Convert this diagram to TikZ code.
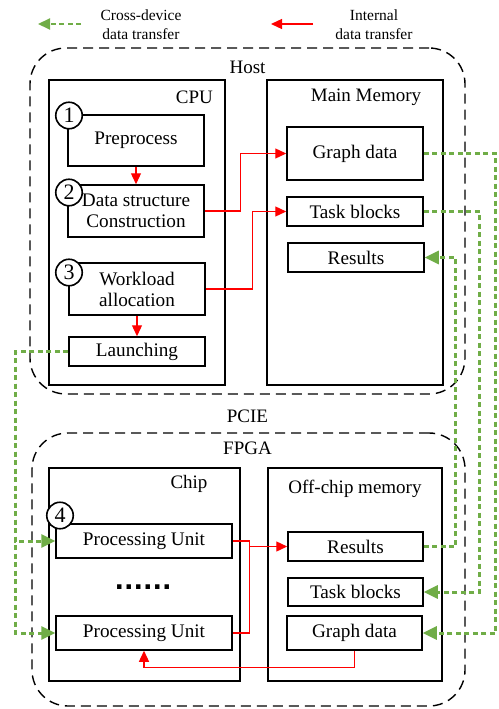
\documentclass[tikz,border=0pt]{standalone}
\usepackage{fontspec}
\setmainfont{Liberation Serif}
\newfontfamily\dotfont{DejaVu Sans}
\usetikzlibrary{arrows.meta}
\definecolor{xfer}{RGB}{112,173,71}
\begin{document}
\begin{tikzpicture}[x=1pt,y=-1pt,
  blk/.style={draw, line width=1.5pt, inner sep=0pt, align=center, font=\fontsize{19.2}{21}\selectfont},
  region/.style={draw, line width=1.5pt, inner sep=0pt},
  group/.style={draw, line width=1.4pt, dash pattern=on 10pt off 6pt, rounded corners=36pt, inner sep=0pt},
  lbl/.style={font=\fontsize{19}{21}\selectfont, inner sep=0pt},
  leg/.style={font=\fontsize{15.5}{19}\selectfont, inner sep=0pt, align=center},
  num/.style={circle, draw, line width=1.6pt, fill=white, minimum size=26.5pt, inner sep=0pt, font=\fontsize{22}{22}\selectfont},
  inline/.style={red, line width=1.3pt},
  inarrow/.style={inline, -{Triangle[length=11pt,width=10pt]}},
  xline/.style={xfer, line width=3pt, dash pattern=on 5pt off 3.5pt},
  xarrow/.style={xline, -{Triangle[length=14pt,width=13pt]}}
]
\useasboundingbox (0,0) rectangle (498,709);

% legend
\coordinate (lg1) at (81,24);
\coordinate (lg2) at (38,24);
\coordinate (lr1) at (313,24);
\coordinate (lr2) at (271,24);
\draw[xarrow, line width=2pt, -{Triangle[length=12pt,width=11pt]}] (lg1) -- (lg2);
\draw[inarrow] (lr1) -- (lr2);
\node[leg] (legx) at (141,24.5) {Cross-device\\data transfer};
\node[leg] (legi) at (374,24.5) {Internal\\data transfer};

% host side
\node[group, minimum width=435, minimum height=346] (host) at (247.5,221) {};
\node[lbl] (hostlbl) at (247.5,67) {Host};
\node[region, minimum width=176, minimum height=305] (cpu) at (137,232.5) {};
\node[lbl, anchor=east] (cpulbl) at (213,97) {CPU};
\node[region, minimum width=176, minimum height=305] (mm) at (355,232.5) {};
\node[lbl] (mmlbl) at (366,97) {Main Memory};

\node[blk, minimum width=136, minimum height=51] (pp) at (136,140.5) {Preprocess};
\node[blk, minimum width=136, minimum height=52] (ds) at (136,211) {Data structure\\Construction};
\node[blk, minimum width=136, minimum height=52] (wl) at (137,289) {Workload\\allocation};
\node[blk, minimum width=136, minimum height=29] (la) at (137,351.5) {Launching};
\node[num] (n1) at (69,115.5) {1};
\node[num] (n2) at (69,192.5) {2};
\node[num] (n3) at (69,272.5) {3};

\node[blk, minimum width=136, minimum height=53] (gdM) at (355,153.5) {Graph data};
\node[blk, minimum width=136, minimum height=29] (tbM) at (355,211.5) {Task blocks};
\node[blk, minimum width=136, minimum height=29] (resM) at (356,257.5) {Results};

\node[lbl] (pcie) at (247.5,416) {PCIE};

% FPGA side
\node[group, minimum width=433, minimum height=273] (fpga) at (248.5,569.5) {};
\node[lbl] (fpgalbl) at (247.5,448) {FPGA};
\node[region, minimum width=191, minimum height=213] (chip) at (144.5,574.5) {};
\node[lbl] (chiplbl) at (189,484) {Chip};
\node[region, minimum width=174, minimum height=213] (ocm) at (355,574.5) {};
\node[lbl] (ocmlbl) at (355,489) {Off-chip memory};

\node[blk, minimum width=176, minimum height=34] (pu1) at (144,541) {Processing Unit};
\node[font=\dotfont\bfseries\fontsize{25}{25}\selectfont, inner sep=0pt, anchor=base] (dots) at (143,589) {......};
\node[blk, minimum width=176, minimum height=34] (pu2) at (144,633) {Processing Unit};
\node[num] (n4) at (60,515.5) {4};

\node[blk, minimum width=135, minimum height=29] (resO) at (355.5,546.5) {Results};
\node[blk, minimum width=135, minimum height=28] (tbO) at (355.5,592) {Task blocks};
\node[blk, minimum width=135, minimum height=34] (gdO) at (354.5,633) {Graph data};

% internal transfers
\draw[inarrow] (pp.south) -- (ds.north);
\draw[inarrow] (wl.south) -- (la.north);
\draw[inarrow] (ds.east) -- ++(36,0) |- (gdM.west);
\draw[inarrow] (wl.east) -- ++(47,0) |- (tbM.west);
\draw[inline] (pu1.east) -- ++(17,0) |- (pu2.east);
\coordinate (tap) at (249,546.5);
\draw[inarrow] (tap) -- (resO.west);
\draw[inarrow] (gdO.south) -- ++(0,17) -| (pu2.south);

% cross-device transfers
\draw[xarrow] (gdM.east) -- ++(72,0) |- (gdO.east);
\draw[xarrow] (tbM.east) -- ++(56,0) |- (tbO.east);
\draw[xarrow] (resO.east) -- ++(32,0) |- (resM.east);
\draw[xarrow] (la.west) -- ++(-53,0) |- (pu1.west);
\draw[xarrow] (la.west) -- ++(-53,0) |- (pu2.west);
\end{tikzpicture}
\end{document}
